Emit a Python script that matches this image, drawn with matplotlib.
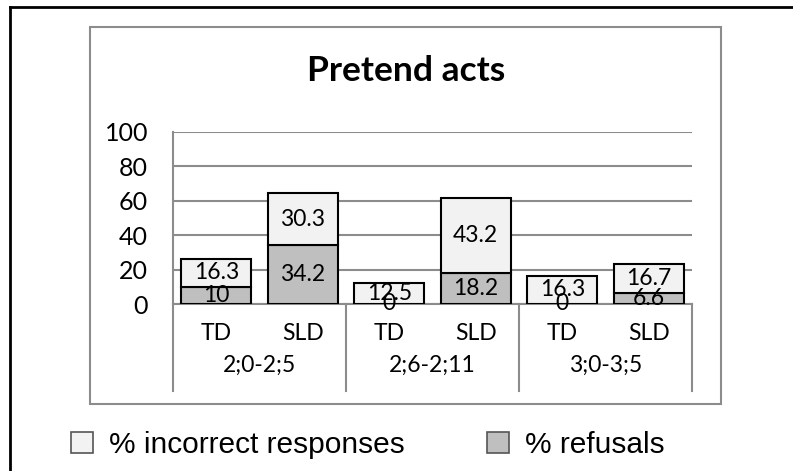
import matplotlib.pyplot as plt
import numpy as np
from matplotlib.patches import Rectangle
from matplotlib.lines import Line2D

# Data
groups = ['2;0-2;5', '2;6-2;11', '3;0-3;5']
subgroups = ['TD', 'SLD', 'TD', 'SLD', 'TD', 'SLD']
refusals = [10, 34.2, 0, 18.2, 0, 6.6]
incorrect = [16.3, 30.3, 12.5, 43.2, 16.3, 16.7]

W, H = 793, 471
fig = plt.figure(figsize=(W / 100, H / 100), dpi=100)

def fx(px):
    return px / W

def fy(py):
    return 1 - py / H

# outer frame (top + left only visible) and inner chart box
fig.add_artist(Line2D([fx(10), fx(793)], [fy(7), fy(7)], color='black', lw=2))
fig.add_artist(Line2D([fx(10), fx(10)], [fy(7), fy(471)], color='black', lw=2))
fig.add_artist(Rectangle((fx(90), fy(404)), fx(721) - fx(90), fy(27) - fy(404),
                         fill=False, edgecolor='#8c8c8c', lw=1.5))

ax = fig.add_axes([fx(173), fy(304), fx(692) - fx(173), fy(132) - fy(304)])

x = np.arange(len(subgroups)) + 0.5
width = 0.81
grey = '#8c8c8c'
font = 'Lato'

b1 = ax.bar(x, refusals, width, color='#BFBFBF', edgecolor='black', lw=1.5,
            label='% refusals', zorder=3)
b2 = ax.bar(x, incorrect, width, bottom=refusals, color='#F2F2F2', edgecolor='black',
            lw=1.5, label='% incorrect responses', zorder=3)

for cont, vals in [(b1, refusals), (b2, incorrect)]:
    for bar, v in zip(cont, vals):
        cy = bar.get_y() + bar.get_height() / 2
        ax.text(bar.get_x() + bar.get_width() / 2, cy, f'{v:g}', ha='center', va='center',
                fontsize=16.5, family=font, color='black', zorder=4)

ax.set_xlim(0, 6)
ax.set_ylim(0, 100)
ax.set_yticks([0, 20, 40, 60, 80, 100])
ax.set_xticks([])
ax.tick_params(axis='y', length=0, pad=18, labelsize=18)
for lab in ax.get_yticklabels():
    lab.set_family(font)
ax.grid(axis='y', color=grey, lw=1.5, zorder=0)
ax.set_axisbelow(True)
for s in ['top', 'right']:
    ax.spines[s].set_visible(False)
for s in ['left', 'bottom']:
    ax.spines[s].set_color(grey)
    ax.spines[s].set_linewidth(1.5)

# category labels
trans = ax.get_xaxis_transform()
for xi, lab in zip(x, subgroups):
    ax.text(xi, -0.169, lab, transform=trans, ha='center', va='center',
            fontsize=16.5, family=font)
for gi, g in enumerate(groups):
    ax.text(2 * gi + 1, -0.355, g, transform=trans, ha='center', va='center',
            fontsize=16.5, family=font)
for sx in [0, 2, 4, 6]:
    ax.plot([sx, sx], [0, -0.506], transform=trans, color=grey, lw=1.5, clip_on=False)

fig.text(fx(406), fy(71), 'Pretend acts', ha='center', va='center',
         fontsize=25.5, fontweight='bold', family=font)

leg = fig.legend(handles=[b2, b1], labels=['% incorrect responses', '% refusals'],
                 loc='center', bbox_to_anchor=(fx(368), fy(445)), ncol=2, frameon=False,
                 prop={'family': 'Liberation Sans', 'size': 21.5},
                 handlelength=0.74, handleheight=0.74, handletextpad=0.53,
                 columnspacing=2.75, borderpad=0)
for h in leg.legend_handles:
    h.set_edgecolor('#555555')
    h.set_linewidth(1.2)

fig.savefig('out.png', dpi=100)
